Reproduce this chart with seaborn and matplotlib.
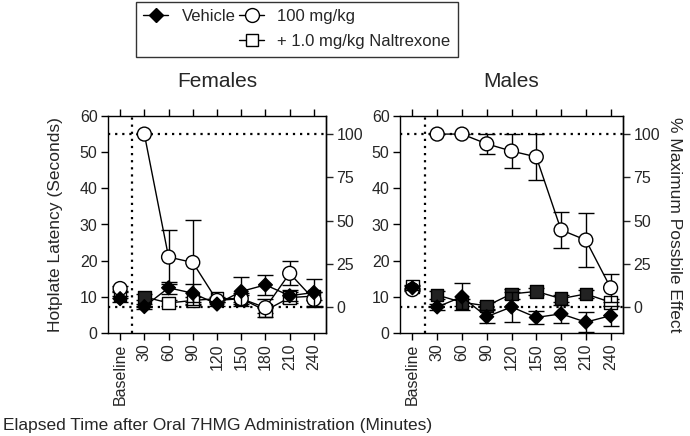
import numpy as np
import matplotlib
matplotlib.use("Agg")
import matplotlib.pyplot as plt
from matplotlib.lines import Line2D
import seaborn as sns

# Time points (categorical)
timepoints = ["Baseline", "30", "60", "90", "120", "150", "180", "210", "240"]

# Females: hotplate latency (s), mean and SEM
f_vehicle = [9.5, 7.3, 12.5, 11.0, 8.0, 11.5, 13.3, 10.3, 11.2]
f_vehicle_err = [0.8, 0.8, 1.7, 2.5, 0.5, 4.0, 2.7, 1.5, 3.8]
f_100 = [12.3, 55.0, 21.0, 19.5, 9.0, 9.5, 7.0, 16.5, 9.3]
f_100_err = [0.8, 0.0, 7.5, 11.8, 0.5, 1.5, 2.5, 3.3, 2.0]
f_nal = [10.5, 10.0, 8.3, 9.0, 9.5, 9.5, 6.2, 9.8, 10.2]
f_nal_err = [0.8, 0.8, 0.8, 1.0, 0.5, 1.0, 0.8, 1.5, 1.0]
f_nal_filled = [0, 1, 0, 0, 0, 0, 0, 0, 0]

# Males
m_vehicle = [12.5, 7.2, 10.0, 4.5, 7.2, 4.3, 5.3, 3.0, 4.8]
m_vehicle_err = [0.5, 0.8, 3.7, 1.8, 4.2, 1.7, 2.5, 2.7, 2.8]
m_100 = [12.0, 55.0, 55.0, 52.3, 50.3, 48.7, 28.5, 25.7, 12.5]
m_100_err = [0.5, 0.0, 0.0, 2.7, 4.8, 6.4, 5.0, 7.5, 3.8]
m_nal = [12.8, 10.5, 8.5, 7.5, 10.8, 11.5, 9.5, 10.8, 8.5]
m_nal_err = [0.5, 1.0, 1.0, 1.0, 1.5, 1.0, 1.0, 1.0, 1.0]
m_nal_filled = [0, 1, 1, 1, 1, 1, 1, 1, 0]

# %MPE reference levels
base_latency = 7.2
cutoff = 55.0

sns.set_style("ticks")
plt.rcParams["font.family"] = ["Liberation Sans", "DejaVu Sans"]
plt.rcParams["axes.linewidth"] = 1.0

fig = plt.figure(figsize=(6.9, 4.36), dpi=100)
ax_f = fig.add_axes([108 / 690, 1 - 333 / 436, 218 / 690, 217 / 436])
ax_m = fig.add_axes([400 / 690, 1 - 333 / 436, 223 / 690, 217 / 436])

x = np.arange(len(timepoints))


def to_mpe(v):
    return (v - base_latency) / (cutoff - base_latency) * 100


def from_mpe(p):
    return p / 100 * (cutoff - base_latency) + base_latency


def draw_series(ax, y, err, marker, face, ms, z):
    y = np.asarray(y)
    # connecting line skips baseline
    sns.lineplot(x=x[1:], y=y[1:], ax=ax, color="black", lw=1.0, zorder=z,
                 estimator=None, sort=False, legend=False)
    ax.errorbar(x, y, yerr=err, fmt="none", ecolor="black", elinewidth=1.0,
                capsize=5.5, capthick=1.0, zorder=z)
    ax.scatter(x, y, marker=marker, s=ms ** 2, c=face, edgecolors="black",
               linewidths=1.0, zorder=z + 0.5)


def panel(ax, title, veh, veh_err, hi, hi_err, nal, nal_err, nal_filled):
    nal_face = ["#222222" if f else "white" for f in nal_filled]
    draw_series(ax, nal, nal_err, "s", nal_face, 9, 3)
    draw_series(ax, hi, hi_err, "o", ["white"] * len(x), 10, 4)
    draw_series(ax, veh, veh_err, "D", ["black"] * len(x), 7, 5)

    dot = (0, (1, 2.2))
    ax.axhline(cutoff, color="black", ls=dot, lw=1.6, zorder=1)
    ax.axhline(base_latency, color="black", ls=dot, lw=1.6, zorder=1)
    ax.axvline(0.5, color="black", ls=dot, lw=1.6, zorder=1)

    ax.set_xlim(-0.5, 8.5)
    ax.set_ylim(0, 60)
    ax.set_yticks(range(0, 61, 10))
    ax.set_xticks(x)
    ax.set_xticklabels(timepoints, rotation=90)
    ax.tick_params(axis="both", direction="out", length=5, width=1.0,
                   labelsize=11.5, color="black", top=True, labeltop=False,
                   pad=2.5)
    for sp in ax.spines.values():
        sp.set_visible(True)
        sp.set_color("black")
        sp.set_linewidth(1.0)
    ax.set_title(title, fontsize=15, pad=21)

    sec = ax.secondary_yaxis("right", functions=(to_mpe, from_mpe))
    sec.set_yticks([0, 25, 50, 75, 100])
    sec.tick_params(direction="out", length=5, width=1.0, labelsize=11.5,
                    pad=2.5)
    return sec


panel(ax_f, "Females", f_vehicle, f_vehicle_err, f_100, f_100_err,
      f_nal, f_nal_err, f_nal_filled)
sec_m = panel(ax_m, "Males", m_vehicle, m_vehicle_err, m_100, m_100_err,
              m_nal, m_nal_err, m_nal_filled)

ax_f.set_ylabel("Hotplate Latency (Seconds)", fontsize=12.5, labelpad=12)
sec_m.set_ylabel("% Maximum Possbile Effect", fontsize=12.5, rotation=270,
                 labelpad=16)
fig.text(0.004, 0.025, "Elapsed Time after Oral 7HMG Administration (Minutes)",
         fontsize=12.5, ha="left", va="center")

# legend
h_veh = Line2D([], [], color="black", lw=1.0, marker="D", ms=7,
               mfc="black", mec="black")
h_hi = Line2D([], [], color="black", lw=1.0, marker="o", ms=10,
              mfc="white", mec="black")
h_nal = Line2D([], [], color="black", lw=1.0, marker="s", ms=9,
               mfc="white", mec="black")
h_blank = Line2D([], [], color="none")
leg = fig.legend([h_veh, h_blank, h_hi, h_nal],
                 ["Vehicle", "", "100 mg/kg", "+ 1.0 mg/kg Naltrexone"],
                 ncol=2, loc="upper center", bbox_to_anchor=(297 / 690, 0.996),
                 borderaxespad=0.0,
                 frameon=True, fancybox=False, edgecolor="black",
                 fontsize=12, handlelength=1.5, handletextpad=0.8,
                 columnspacing=0.2, labelspacing=0.6, borderpad=0.45)
leg.get_frame().set_linewidth(1.0)

fig.savefig("out.png", dpi=100)
